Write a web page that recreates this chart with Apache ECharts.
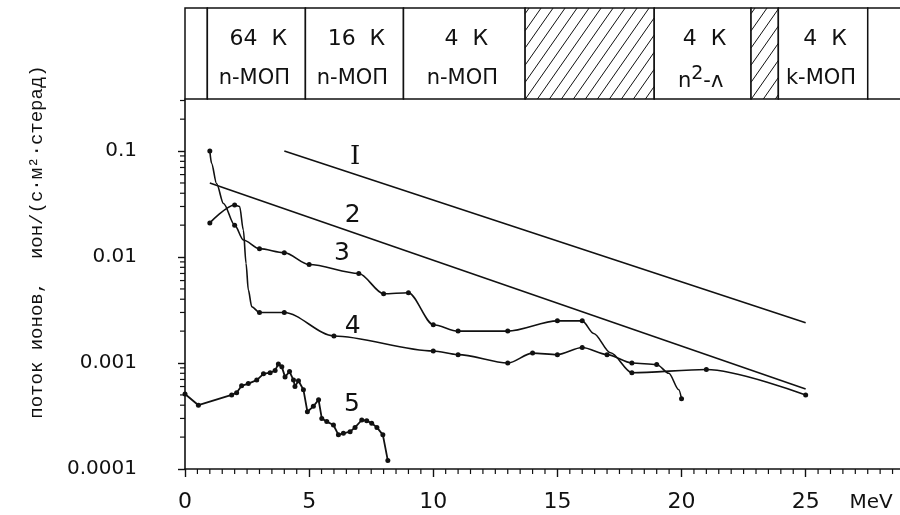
<!DOCTYPE html>
<html><head><meta charset="utf-8">
<script src="https://cdn.jsdelivr.net/npm/echarts@6/dist/echarts.min.js"></script>
<style>html,body{margin:0;padding:0;background:#fff}#c{width:900px;height:515px}</style>
</head><body><div id="c"></div>
<script>
// ---- data ----
const xTicks = [0, 5, 10, 15, 20, 25];
const yTicks = [0.0001, 0.001, 0.01, 0.1];
const lineI = [[4, 0.1], [25, 0.0024]];
const line2 = [[1, 0.05], [25, 0.00057]];
// measured points (with dots)
const curve3Points = [[1,0.1],[2,0.02],[3,0.012],[4,0.011],[5,0.0085],[7,0.007],[8,0.0045],[9,0.0046],[10,0.0023],[11,0.002],[13,0.002],[15,0.0025],[16,0.0025],[18,0.00081],[21,0.00087],[25,0.0005]];
// traced path points (no dots)
const curve3Trace = [[1.07,0.0765],[1.27,0.0495],[1.55,0.032],[2.35,0.0145],[16.46,0.0019],[17.14,0.00125]];
const curve4Points = [[1,0.021],[2,0.031],[3,0.003],[4,0.003],[6,0.0018],[10,0.0013],[11,0.0012],[13,0.001],[14,0.00124],[15,0.0012],[16,0.0014],[17,0.0012],[18,0.001],[19,0.00097],[20,0.00046]];
const curve4Trace = [[2.2,0.03],[2.35,0.018],[2.46,0.0087],[2.55,0.0049],[2.69,0.0034],[19.49,0.0008],[19.89,0.00056]];
const curve5Points = [[0,0.00051],[0.54,0.0004],[1.88,0.0005],[2.08,0.000525],[2.28,0.00061],[2.55,0.00064],[2.89,0.00069],[3.16,0.00079],[3.43,0.00081],[3.63,0.00085],[3.76,0.00098],[3.9,0.00092],[4.03,0.00074],[4.21,0.00083],[4.37,0.00069],[4.43,0.0006],[4.57,0.00068],[4.77,0.00056],[4.93,0.000347],[5.17,0.00039],[5.38,0.00045],[5.51,0.0003],[5.71,0.00028],[5.98,0.00026],[6.18,0.00021],[6.38,0.000217],[6.65,0.000225],[6.85,0.000247],[7.12,0.00029],[7.32,0.000286],[7.52,0.00027],[7.73,0.000247],[7.97,0.00021],[8.17,0.00012]];
const curveLabels = [[6.85,0.088,'I'],[6.76,0.0249,'2'],[6.32,0.0108,'3'],[6.76,0.0022,'4'],[6.72,0.00041,'5']];
const headerEdges = [0, 0.9, 4.85, 8.8, 13.7, 18.9, 22.8, 23.9, 27.5, 29.5];
const headerTop = ['', '64  К', '16  К', '4  К', '', '4  К', '', '4  К', ''];
const headerBottom = ['', 'n-МОП', 'n-МОП', 'n-МОП', '', '{a|n}{s|2}{a|-ʌ}', '', 'k-МОП', ''];
const headerHatched = [false, false, false, false, true, false, true, false, false];
const xName = 'MeV';
const yName = 'поток ионов,  ион/(с·м²·стерад)';

// ---- helpers ----
const INK = '#111';
function merge(points, trace) {
  const a = points.map(p => ({ value: p, symbol: 'circle' }));
  const b = trace.map(p => ({ value: p, symbol: 'none' }));
  return a.concat(b).sort((u, v) => u.value[0] - v.value[0]);
}
const minorY = [];
for (let e = -4; e <= -1; e++) for (let k = 2; k <= 9; k++) {
  const v = k * Math.pow(10, e);
  if (v <= 0.31) minorY.push([0, v]);
}
const minorX = [];
for (let i = 1; i <= 57; i++) { if (i % 10 !== 0) minorX.push([i * 0.5, 0.0001]); }

function renderHeader(params, api) {
  const i = api.value(2);
  const a = api.coord([api.value(0), 1]);
  const b = api.coord([api.value(1), 0]);
  const x0 = a[0], y0 = a[1], x1 = b[0], y1 = b[1];
  const h = y1 - y0;
  const children = [{ type: 'rect', shape: { x: x0, y: y0, width: x1 - x0, height: h },
    style: { fill: '#fff', stroke: INK, lineWidth: 1.5 } }];
  if (headerHatched[i]) {
    const k = 0.7, s = 12;
    for (let c = x0 - k * h + 4; c < x1; c += s) {
      const yb = Math.min(y1, y1 - (x0 - c) / k);
      const yt = Math.max(y0, y1 - (x1 - c) / k);
      if (yb > yt + 0.5) {
        children.push({ type: 'line', shape: { x1: c + k * (y1 - yb), y1: yb, x2: c + k * (y1 - yt), y2: yt },
          style: { stroke: INK, lineWidth: 1 } });
      }
    }
  }
  const cx = (x0 + x1) / 2;
  if (headerTop[i]) children.push({ type: 'text', style: { text: headerTop[i], x: cx + 2, y: y0 + h * 0.34,
    fill: INK, font: '22px "DejaVu Sans"', align: 'center', verticalAlign: 'middle' } });
  if (headerBottom[i]) children.push({ type: 'text', style: { text: headerBottom[i], x: cx - 2, y: y0 + h * 0.77,
    fill: INK, font: '21px "DejaVu Sans"', align: 'center', verticalAlign: 'middle',
    rich: { a: { font: '21px "DejaVu Sans"', fill: INK, lineHeight: 28, verticalAlign: 'bottom' },
            s: { font: '19px "DejaVu Sans"', fill: INK, lineHeight: 28, verticalAlign: 'top' } } } });
  return { type: 'group', children };
}

function renderMinorY(params, api) {
  const p = api.coord([api.value(0), api.value(1)]);
  return { type: 'line', shape: { x1: p[0] - 5, y1: p[1], x2: p[0], y2: p[1] }, style: { stroke: INK, lineWidth: 1.2 } };
}
function renderMinorX(params, api) {
  const p = api.coord([api.value(0), api.value(1)]);
  return { type: 'line', shape: { x1: p[0], y1: p[1], x2: p[0], y2: p[1] + 5 }, style: { stroke: INK, lineWidth: 1.2 } };
}

const chart = echarts.init(document.getElementById('c'), null, { renderer: 'canvas' });
const lineStyle = { color: INK, width: 1.6 };
const labelBase = { show: true, position: 'inside', color: INK, textBorderWidth: 0, textBorderColor: 'transparent', opacity: 1 };
chart.setOption({
  backgroundColor: '#fff',
  animation: false,
  grid: [
    { left: 185, top: 99, right: 0, bottom: 46 },
    { left: 185, top: 8, right: 0, height: 91 }
  ],
  xAxis: [
    { type: 'value', gridIndex: 0, min: 0, max: 28.8, interval: 5,
      axisLine: { show: true, lineStyle: { color: INK, width: 1.6 } },
      axisTick: { show: true, length: 8, lineStyle: { color: INK, width: 1.4 } },
      minorTick: { show: false },
      splitLine: { show: false },
      axisLabel: { color: INK, fontSize: 22, fontFamily: 'DejaVu Sans', margin: 22, showMaxLabel: false,
        formatter: v => xTicks.indexOf(v) >= 0 ? String(v) : '' } },
    { type: 'value', gridIndex: 1, min: 0, max: 28.8, show: false }
  ],
  yAxis: [
    { type: 'log', gridIndex: 0, min: 0.0001, max: 0.31, logBase: 10,
      axisLine: { show: true, lineStyle: { color: INK, width: 1.6 } },
      axisTick: { show: true, length: 7, lineStyle: { color: INK, width: 1.4 } },
      splitLine: { show: false },
      axisLabel: { color: INK, fontSize: 20, fontFamily: 'DejaVu Sans', margin: 48, showMaxLabel: false,
        formatter: v => { const t = yTicks.find(t => Math.abs(Math.log10(v) - Math.log10(t)) < 1e-6); return t ? String(t) : ''; } } },
    { type: 'value', gridIndex: 1, min: 0, max: 1, show: false }
  ],
  graphic: [
    { type: 'text', x: 871, y: 503, style: { text: xName, fill: INK, font: '20px "DejaVu Sans"', align: 'center', verticalAlign: 'middle' } },
    { type: 'text', x: 37, y: 242, rotation: Math.PI / 2, style: { text: yName, fill: INK, font: '19px "Liberation Mono"', align: 'center', verticalAlign: 'middle' } }
  ],
  series: [
    { type: 'custom', xAxisIndex: 1, yAxisIndex: 1, clip: false, renderItem: renderHeader,
      data: headerTop.map((t, i) => [headerEdges[i], headerEdges[i + 1], i]), encode: { x: [0, 1], y: 2 } },
    { type: 'custom', xAxisIndex: 0, yAxisIndex: 0, clip: false, renderItem: renderMinorY, data: minorY },
    { type: 'custom', xAxisIndex: 0, yAxisIndex: 0, clip: false, renderItem: renderMinorX, data: minorX },
    { type: 'line', data: lineI, symbol: 'none', lineStyle },
    { type: 'line', data: line2, symbol: 'none', lineStyle },
    { type: 'line', data: merge(curve3Points, curve3Trace), smooth: 0.3, smoothMonotone: 'x', symbolSize: 5, showAllSymbol: true,
      itemStyle: { color: INK }, lineStyle },
    { type: 'line', data: merge(curve4Points, curve4Trace), smooth: 0.3, smoothMonotone: 'x', symbolSize: 5, showAllSymbol: true,
      itemStyle: { color: INK }, lineStyle },
    { type: 'line', data: curve5Points, smooth: false, symbol: 'circle', symbolSize: 5, showAllSymbol: true,
      itemStyle: { color: INK }, lineStyle: { color: INK, width: 1.8 } },
    { type: 'scatter', symbolSize: 1, silent: true, itemStyle: { color: 'rgba(0,0,0,0)' },
      labelLayout: { hideOverlap: false },
      data: curveLabels.map(l => ({ value: [l[0], l[1]], name: l[2],
        label: Object.assign({}, labelBase, { formatter: l[2],
          fontSize: l[2] === 'I' ? 26 : 25, fontFamily: l[2] === 'I' ? 'DejaVu Serif' : 'DejaVu Sans' }) })) }
  ]
});
</script></body></html>
